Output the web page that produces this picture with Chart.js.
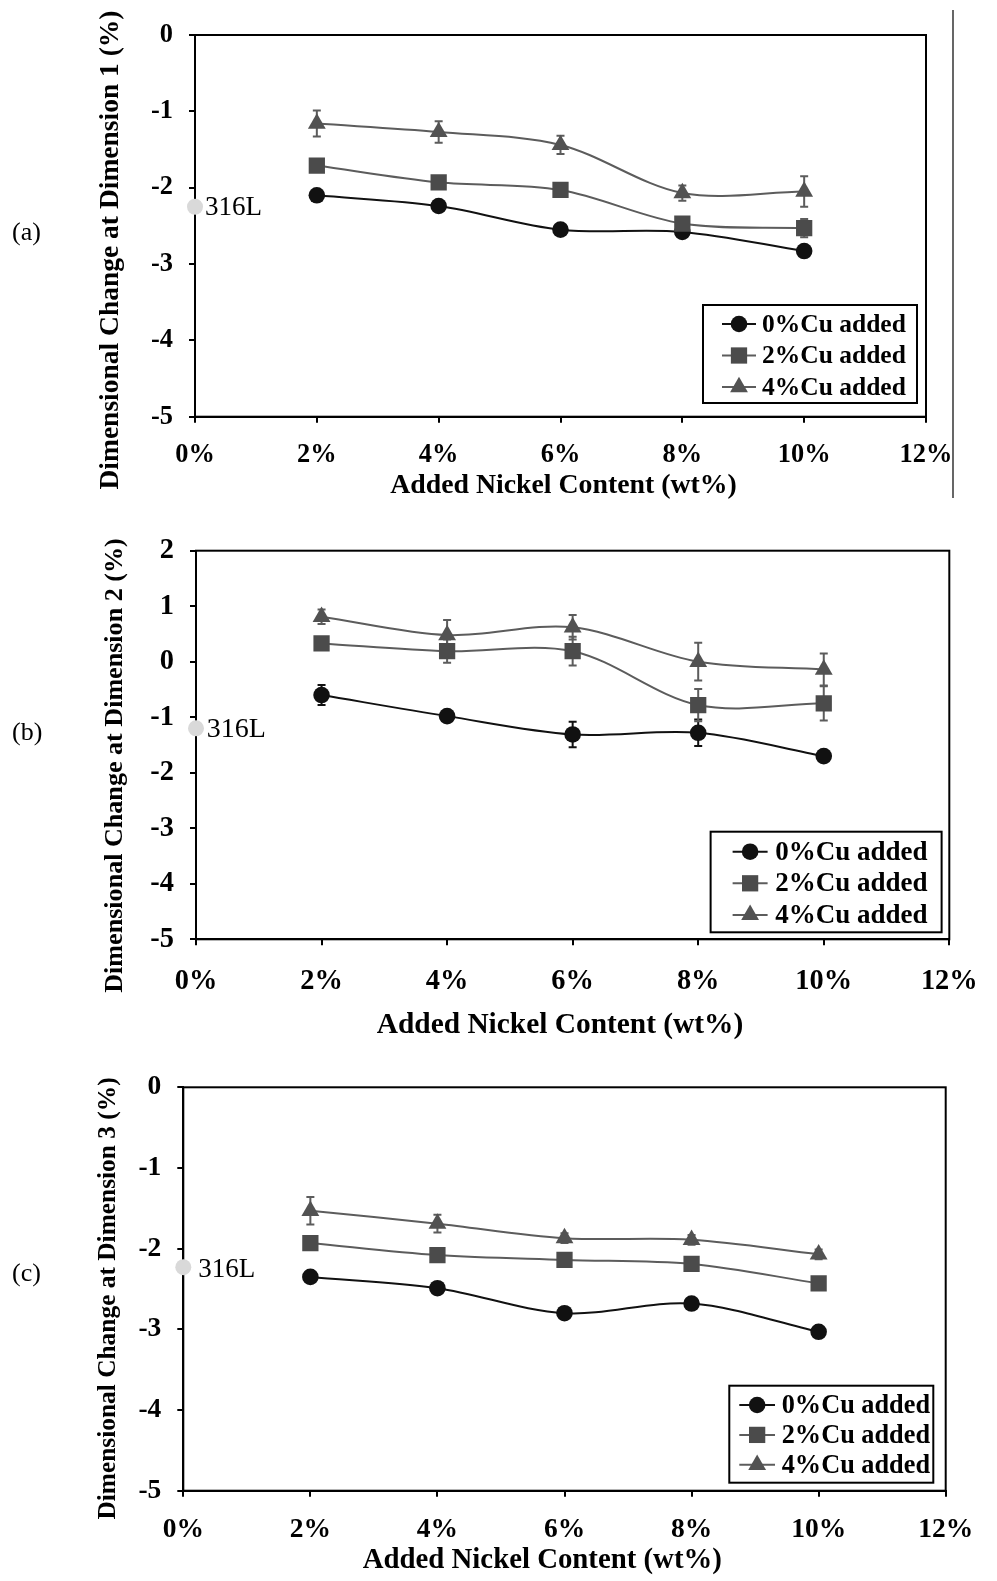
<!DOCTYPE html>
<html>
<head>
<meta charset="utf-8">
<script src="https://cdn.jsdelivr.net/npm/chart.js@4.4.0/dist/chart.umd.min.js"></script>
<style>
  body { margin: 0; background: #fff; width: 997px; height: 1581px; position: relative; overflow: hidden; }
  canvas { position: absolute; left: 0; }
</style>
</head>
<body>
<canvas id="chartA" width="997" height="500" style="top:0px"></canvas>
<canvas id="chartB" width="997" height="545" style="top:500px"></canvas>
<canvas id="chartC" width="997" height="536" style="top:1045px"></canvas>
<script>
// x values (added Ni, wt%) and tick labels
const nickel = [2, 4, 6, 8, 10];
const nickelTicks = [0, 2, 4, 6, 8, 10, 12];
const seriesLabels = ['0%Cu added', '2%Cu added', '4%Cu added'];
const refLabel = '316L';
const xTitle = 'Added Nickel Content (wt%)';

// (a) dimension 1
const dim1Cu0 = [-2.10, -2.24, -2.55, -2.58, -2.83];
const dim1Cu2 = [-1.71, -1.93, -2.03, -2.47, -2.53];
const dim1Cu4 = [-1.16, -1.27, -1.44, -2.07, -2.05];
const dim1Err0 = [0.04, 0.04, 0.04, 0.04, 0.04];
const dim1Err2 = [0.05, 0.05, 0.05, 0.08, 0.12];
const dim1Err4 = [0.17, 0.14, 0.12, 0.10, 0.20];
const dim1Ref = -2.25;

// (b) dimension 2
const dim2Cu0 = [-0.60, -0.98, -1.31, -1.28, -1.70];
const dim2Cu2 = [0.33, 0.19, 0.19, -0.78, -0.75];
const dim2Cu4 = [0.81, 0.48, 0.62, 0.00, -0.14];
const dim2Err0 = [0.18, 0.06, 0.23, 0.24, 0.05];
const dim2Err2 = [0.08, 0.21, 0.26, 0.29, 0.31];
const dim2Err4 = [0.13, 0.27, 0.22, 0.34, 0.29];
const dim2Ref = -1.2;

// (c) dimension 3
const dim3Cu0 = [-2.35, -2.49, -2.80, -2.68, -3.03];
const dim3Cu2 = [-1.93, -2.08, -2.14, -2.19, -2.43];
const dim3Cu4 = [-1.53, -1.69, -1.87, -1.89, -2.07];
const dim3Err0 = [0.04, 0.04, 0.04, 0.04, 0.04];
const dim3Err2 = [0.05, 0.05, 0.05, 0.05, 0.05];
const dim3Err4 = [0.17, 0.11, 0.06, 0.06, 0.06];
const dim3Ref = -2.23;

const serif = "'Liberation Serif', 'Times New Roman', serif";
const looks = [
  { line: '#111111', fill: '#111111', style: 'circle', r: 8.3 },
  { line: '#5c5c5c', fill: '#4b4b4b', style: 'rect', r: 11.5 },
  { line: '#5c5c5c', fill: '#525252', style: 'triangle', r: 10.3 }
];

// marker shapes, same geometry as chart.js point styles
function marker(ctx, style, r, x, y) {
  ctx.beginPath();
  if (style === 'circle') {
    ctx.arc(x, y, r, 0, Math.PI * 2);
  } else if (style === 'rect') {
    const s = Math.SQRT1_2 * r;
    ctx.rect(x - s, y - s, 2 * s, 2 * s);
  } else {
    let rad = 0;
    ctx.moveTo(x + Math.sin(rad) * r, y - Math.cos(rad) * r);
    rad += 2 * Math.PI / 3;
    ctx.lineTo(x + Math.sin(rad) * r, y - Math.cos(rad) * r);
    rad += 2 * Math.PI / 3;
    ctx.lineTo(x + Math.sin(rad) * r, y - Math.cos(rad) * r);
    ctx.closePath();
  }
  ctx.fill();
}

const panelDecor = {
  id: 'panelDecor',
  beforeDatasetsDraw(chart, args, o) {
    const { ctx, chartArea: a, scales: { x, y } } = chart;
    ctx.save();
    ctx.strokeStyle = '#000';
    ctx.lineWidth = 2;
    ctx.strokeRect(a.left, a.top, a.right - a.left, a.bottom - a.top);
    // error bars
    chart.data.datasets.forEach(ds => {
      if (!ds.errors) return;
      ctx.strokeStyle = ds.borderColor;
      ctx.lineWidth = 2;
      ds.data.forEach((p, j) => {
        const px = x.getPixelForValue(p.x);
        const top = y.getPixelForValue(p.y + ds.errors[j]);
        const bot = y.getPixelForValue(p.y - ds.errors[j]);
        ctx.beginPath();
        ctx.moveTo(px, top); ctx.lineTo(px, bot);
        ctx.moveTo(px - 4, top); ctx.lineTo(px + 4, top);
        ctx.moveTo(px - 4, bot); ctx.lineTo(px + 4, bot);
        ctx.stroke();
      });
    });
    ctx.restore();
  },
  afterDraw(chart, args, o) {
    const { ctx, chartArea: a, scales: { x, y } } = chart;
    ctx.save();
    ctx.fillStyle = '#000';

    // y title
    ctx.save();
    ctx.translate(o.yTitle.x, o.yTitle.y);
    ctx.rotate(-Math.PI / 2);
    ctx.font = 'bold ' + o.yTitle.size + 'px ' + serif;
    ctx.textAlign = 'center';
    ctx.textBaseline = 'alphabetic';
    ctx.fillText(o.yTitle.text, 0, 0);
    ctx.restore();

    // x title
    ctx.font = 'bold ' + o.xTitle.size + 'px ' + serif;
    ctx.textAlign = 'center';
    ctx.textBaseline = 'alphabetic';
    ctx.fillText(xTitle, o.xTitle.x, o.xTitle.y);

    // panel letter
    ctx.font = o.letter.size + 'px ' + serif;
    ctx.textAlign = 'left';
    ctx.fillText(o.letter.text, o.letter.x, o.letter.y);

    // 316L label next to its point
    const refDs = chart.data.datasets.find(d => d.label === refLabel);
    const rp = refDs.data[0];
    ctx.font = o.refText.size + 'px ' + serif;
    ctx.fillText(refLabel, x.getPixelForValue(rp.x) + o.refText.dx, y.getPixelForValue(rp.y) + o.refText.dy);

    // legend box
    const lg = o.legend;
    const bx = a.right - lg.insetRight - lg.w;
    const by = a.bottom - lg.insetBottom - lg.h;
    ctx.fillStyle = '#fff';
    ctx.fillRect(bx, by, lg.w, lg.h);
    ctx.strokeStyle = '#000';
    ctx.lineWidth = 2;
    ctx.strokeRect(bx, by, lg.w, lg.h);
    ctx.font = 'bold ' + lg.size + 'px ' + serif;
    ctx.textBaseline = 'middle';
    chart.data.datasets.forEach((ds, i) => {
      if (ds.label === refLabel) return;
      const ry = by + lg.firstRow + i * lg.rowGap;
      const lx = bx + lg.lineX;
      ctx.strokeStyle = ds.borderColor;
      ctx.lineWidth = 2;
      ctx.beginPath();
      ctx.moveTo(lx, ry); ctx.lineTo(lx + lg.lineLen, ry);
      ctx.stroke();
      ctx.fillStyle = ds.pointBackgroundColor;
      marker(ctx, ds.pointStyle, ds.pointRadius, lx + lg.lineLen / 2, ry);
      ctx.fillStyle = '#000';
      ctx.fillText(ds.label, lx + lg.lineLen + lg.textGap, ry + 1);
    });

    // separator line on the right of panel (a)
    if (o.vline) {
      ctx.strokeStyle = '#000';
      ctx.lineWidth = 1.2;
      ctx.beginPath();
      ctx.moveTo(o.vline.x, o.vline.y0); ctx.lineTo(o.vline.x, o.vline.y1);
      ctx.stroke();
    }
    ctx.restore();
  }
};

function seriesData(vals) {
  return nickel.map((n, i) => ({ x: n, y: vals[i] }));
}

function makePanel(id, p) {
  const canvas = document.getElementById(id);
  const H = canvas.height;
  const datasets = p.values.map((vals, i) => ({
    label: seriesLabels[i],
    data: seriesData(vals),
    errors: p.errors[i],
    borderColor: looks[i].line,
    borderWidth: 2,
    pointStyle: looks[i].style,
    pointRadius: looks[i].r,
    pointBackgroundColor: looks[i].fill,
    pointBorderWidth: 0,
    tension: 0.33,
    fill: false,
    order: 3 - i
  }));
  datasets.push({
    label: refLabel,
    data: [{ x: 0, y: p.ref }],
    showLine: false,
    pointRadius: 8,
    pointBackgroundColor: '#d9d9d9',
    pointBorderWidth: 0,
    borderColor: '#d9d9d9',
    clip: false,
    order: -1
  });

  const tickFont = { family: serif, weight: 'bold', size: p.tickSize };
  return new Chart(canvas, {
    type: 'line',
    data: { datasets },
    options: {
      responsive: false,
      animation: false,
      devicePixelRatio: 1,
      layout: { padding: { left: 0, top: p.area.top, right: 997 - p.area.right, bottom: 0 } },
      scales: {
        x: {
          type: 'linear',
          min: nickelTicks[0],
          max: nickelTicks[nickelTicks.length - 1],
          afterBuildTicks: s => { s.ticks = nickelTicks.map(v => ({ value: v })); },
          afterFit: s => { s.height = H - p.area.bottom; },
          border: { display: true, color: '#000', width: 2 },
          grid: { drawOnChartArea: false, drawTicks: true, tickLength: 6, tickColor: '#000', lineWidth: 2 },
          ticks: { color: '#000', font: tickFont, padding: p.tickPadX, maxRotation: 0, callback: v => v + '%' }
        },
        y: {
          min: p.yMin,
          max: p.yMax,
          afterFit: s => { s.width = p.area.left; },
          border: { display: true, color: '#000', width: 2 },
          grid: { drawOnChartArea: false, drawTicks: true, tickLength: 6, tickColor: '#000', lineWidth: 2 },
          ticks: { color: '#000', font: tickFont, padding: 16, stepSize: 1 }
        }
      },
      plugins: {
        legend: { display: false },
        tooltip: { enabled: false },
        panelDecor: p.decor
      }
    },
    plugins: [panelDecor]
  });
}

makePanel('chartA', {
  area: { left: 195, right: 926, top: 35, bottom: 416.7 },
  yMin: -5, yMax: 0,
  values: [dim1Cu0, dim1Cu2, dim1Cu4],
  errors: [dim1Err0, dim1Err2, dim1Err4],
  ref: dim1Ref,
  tickSize: 26.4, tickPadX: 16.5,
  decor: {
    yTitle: { text: 'Dimensional Change at Dimension 1 (%)', x: 118, y: 250, size: 27.5 },
    xTitle: { x: 563.5, y: 492.5, size: 27.8 },
    letter: { text: '(a)', x: 12, y: 240, size: 26 },
    refText: { dx: 10, dy: 8.5, size: 27 },
    legend: { insetRight: 9, insetBottom: 13.7, w: 214, h: 98, firstRow: 19, rowGap: 31.5, lineX: 19, lineLen: 34, textGap: 6, size: 25.5 },
    vline: { x: 953, y0: 10, y1: 498 }
  }
});

makePanel('chartB', {
  area: { left: 196, right: 966.7, top: 50.7, bottom: 439.3 },
  yMin: -5, yMax: 2,
  values: [dim2Cu0, dim2Cu2, dim2Cu4],
  errors: [dim2Err0, dim2Err2, dim2Err4],
  ref: dim2Ref,
  tickSize: 28.4, tickPadX: 19.3,
  decor: {
    yTitle: { text: 'Dimensional Change at Dimension 2 (%)', x: 121.5, y: 265.5, size: 26.1 },
    xTitle: { x: 560, y: 533, size: 29.4 },
    letter: { text: '(b)', x: 12, y: 240, size: 26 },
    refText: { dx: 10.7, dy: 8.4, size: 28 },
    legend: { insetRight: 7.7, insetBottom: 7, w: 231, h: 100.6, firstRow: 20, rowGap: 31.6, lineX: 22, lineLen: 35, textGap: 7.7, size: 27 },
    vline: null
  }
});

makePanel('chartC', {
  area: { left: 183.3, right: 945.7, top: 42.3, bottom: 445.7 },
  yMin: -5, yMax: 0,
  values: [dim3Cu0, dim3Cu2, dim3Cu4],
  errors: [dim3Err0, dim3Err2, dim3Err4],
  ref: dim3Ref,
  tickSize: 27.5, tickPadX: 16.8,
  decor: {
    yTitle: { text: 'Dimensional Change at Dimension 3 (%)', x: 115, y: 253.5, size: 25.4 },
    xTitle: { x: 542.3, y: 523.3, size: 28.8 },
    letter: { text: '(c)', x: 12, y: 236, size: 26 },
    refText: { dx: 15, dy: 9.4, size: 27 },
    legend: { insetRight: 12.4, insetBottom: 8, w: 204, h: 97, firstRow: 19.3, rowGap: 29.9, lineX: 10, lineLen: 35.7, textGap: 6.7, size: 26.3 },
    vline: null
  }
});
</script>
</body>
</html>
